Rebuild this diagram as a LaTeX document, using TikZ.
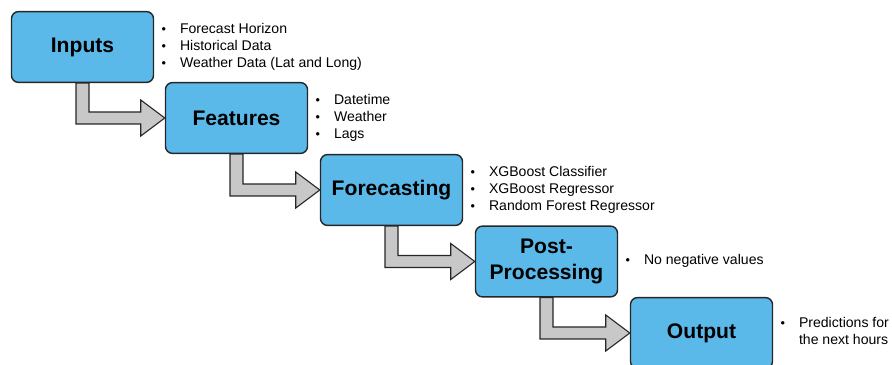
\documentclass[tikz,border=0pt]{standalone}
\usepackage{fontspec}
\setmainfont{Liberation Sans}
\usetikzlibrary{calc}

\definecolor{stageblue}{RGB}{91,185,234}
\definecolor{arrowgray}{RGB}{200,200,200}

% bent block arrow from the bottom of one stage to the left side of the next
\newcommand{\stagearrow}[2]{%
  \filldraw[flowarrow] ($(#1.south)+(-6.5,0)$) |- ($(#2.west)+(-24,6)$)
    -- ($(#2.west)+(-24,18)$) -- (#2.west) -- ($(#2.west)+(-24,-18)$)
    -- ($(#2.west)+(-24,-6)$) -| ($(#1.south)+(6.5,0)$) -- cycle;}
\newcommand{\dotmark}{\raisebox{0.05ex}{\scalebox{0.9}{\textbullet}}}

\begin{document}
\begin{tikzpicture}[x=0.025cm,y=-0.025cm,
    stagebox/.style={draw=black!85,line width=1pt,fill=stageblue,rounded corners=5pt,
      minimum width=3.55cm,minimum height=1.77cm,align=center,
      font=\fontsize{15}{18.5}\selectfont\bfseries},
    notelist/.style={anchor=west,inner sep=0pt,xshift=5pt,
      font=\fontsize{10}{12.1}\selectfont},
    flowarrow/.style={fill=arrowgray,draw=black!85,line width=0.8pt}]
    \useasboundingbox (0,0) rectangle (892,365);

    % Stages
    \node[stagebox] (inputs) at (82.5,47) {Inputs};
    \node[stagebox] (features) at (236.5,118) {Features};
    \node[stagebox] (forecasting) at (391.5,190) {Forecasting};
    \node[stagebox] (postproc) at (546.5,261.5) {Post-\\Processing};
    \node[stagebox] (output) at (701.5,333) {Output};

    % Notes beside each stage
    \node[notelist] (inputsnotes) at (inputs.east) {\begin{tabular}{@{}c@{\hspace{10pt}}l@{}}
      \dotmark & Forecast Horizon\\
      \dotmark & Historical Data\\
      \dotmark & Weather Data (Lat and Long)\end{tabular}};
    \node[notelist] (featuresnotes) at (features.east) {\begin{tabular}{@{}c@{\hspace{10pt}}l@{}}
      \dotmark & Datetime\\
      \dotmark & Weather\\
      \dotmark & Lags\end{tabular}};
    \node[notelist] (forecastingnotes) at (forecasting.east) {\begin{tabular}{@{}c@{\hspace{10pt}}l@{}}
      \dotmark & XGBoost Classifier\\
      \dotmark & XGBoost Regressor\\
      \dotmark & Random Forest Regressor\end{tabular}};
    \node[notelist] (postprocnotes) at (postproc.east) {\begin{tabular}{@{}c@{\hspace{10pt}}l@{}}
      \dotmark & No negative values\end{tabular}};
    \node[notelist] (outputnotes) at (output.east) {\begin{tabular}{@{}c@{\hspace{10pt}}l@{}}
      \dotmark & Predictions for\\
       & the next hours\end{tabular}};

    % Arrows showing workflow
    \stagearrow{inputs}{features}
    \stagearrow{features}{forecasting}
    \stagearrow{forecasting}{postproc}
    \stagearrow{postproc}{output}
\end{tikzpicture}
\end{document}
